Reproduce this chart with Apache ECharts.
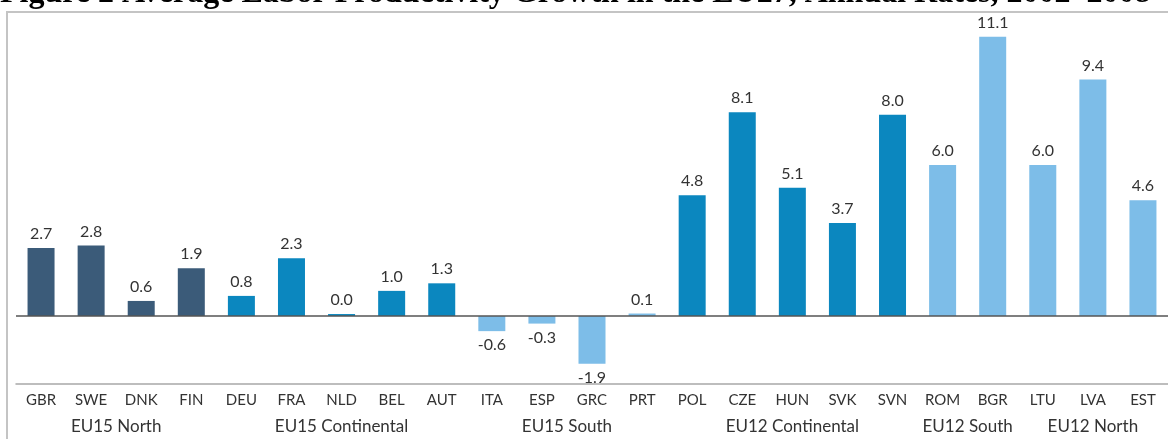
<!DOCTYPE html>
<html>
<head>
<meta charset="utf-8">
<script src="https://cdn.jsdelivr.net/npm/echarts@6/dist/echarts.min.js"></script>
<style>
  html, body { margin: 0; padding: 0; background: #ffffff; }
  #chart { width: 1168px; height: 439px; }
</style>
</head>
<body>
<div id="chart"></div>
<script>
// ---- data ----
const titleText = 'Figure 2 Average Labor Productivity Growth in the EU27, Annual Rates, 2002\u20132008';
const categories = ['GBR','SWE','DNK','FIN','DEU','FRA','NLD','BEL','AUT','ITA','ESP','GRC','PRT','POL','CZE','HUN','SVK','SVN','ROM','BGR','LTU','LVA','EST'];
const values = [2.7, 2.8, 0.6, 1.9, 0.8, 2.3, 0.0, 1.0, 1.3, -0.6, -0.3, -1.9, 0.1, 4.8, 8.1, 5.1, 3.7, 8.0, 6.0, 11.1, 6.0, 9.4, 4.6];
const groupNames = ['EU15 North', 'EU15 Continental', 'EU15 South', 'EU12 Continental', 'EU12 South', 'EU12 North'];
const groupSizes = [4, 5, 4, 5, 2, 3];

// ---- styles ----
const groupColors = ['#3b5b79', '#0b87bf', '#7dbde8', '#0b87bf', '#7dbde8', '#7dbde8'];
const textColor = '#333333';
const font = 'Lato, "Noto Sans", sans-serif';

const colorOf = [];
groupSizes.forEach((n, g) => { for (let i = 0; i < n; i++) colorOf.push(groupColors[g]); });

const chart = echarts.init(document.getElementById('chart'), null, { renderer: 'canvas' });

const option = {
  backgroundColor: '#ffffff',
  animation: false,
  grid: { left: 16, right: -9, top: 14, bottom: 55, containLabel: false },
  xAxis: {
    type: 'category',
    data: categories,
    axisLine: { show: true, onZero: false, lineStyle: { color: '#a8a8a8', width: 1.5 } },
    axisTick: { show: false },
    axisLabel: { color: textColor, fontFamily: font, fontSize: 15, margin: 9, interval: 0 }
  },
  yAxis: {
    type: 'value',
    min: -2.7,
    max: 12,
    show: false,
    splitLine: { show: false }
  },
  series: [{
    type: 'bar',
    barWidth: 27,
    barMinHeight: 2,
    data: values.map((v, i) => ({
      value: v,
      itemStyle: { color: colorOf[i] },
      label: { position: v < 0 ? 'bottom' : 'top' }
    })),
    label: {
      show: true,
      distance: 6,
      color: textColor,
      fontFamily: font,
      fontSize: 16,
      formatter: p => p.value.toFixed(1)
    },
    markLine: {
      silent: true,
      symbol: 'none',
      label: { show: false },
      lineStyle: { color: '#555555', width: 1.5, type: 'solid' },
      data: [{ yAxis: 0 }]
    }
  }]
};
chart.setOption(option);

// group labels positioned from the category axis
const graphics = [];
let start = 0;
groupSizes.forEach((n, g) => {
  const x0 = chart.convertToPixel({ xAxisIndex: 0 }, categories[start]);
  const x1 = chart.convertToPixel({ xAxisIndex: 0 }, categories[start + n - 1]);
  graphics.push({
    type: 'text',
    x: (x0 + x1) / 2,
    y: 427,
    style: {
      text: groupNames[g],
      fill: textColor,
      font: '17px ' + font,
      textAlign: 'center',
      textVerticalAlign: 'middle'
    }
  });
  start += n;
});
// frame
graphics.push({
  type: 'rect',
  shape: { x: 7, y: 12, width: 1300, height: 600 },
  style: { fill: null, stroke: '#c4c4c4', lineWidth: 2 },
  z: -1
});
// title (partly cut off at the top, as in the reference)
graphics.push({
  type: 'text',
  x: 0,
  y: 10,
  style: {
    text: titleText,
    fill: '#000000',
    font: 'bold 32px "Liberation Serif", "Times New Roman", serif',
    textAlign: 'left',
    textVerticalAlign: 'bottom'
  }
});
chart.setOption({ graphic: graphics });
</script>
</body>
</html>
